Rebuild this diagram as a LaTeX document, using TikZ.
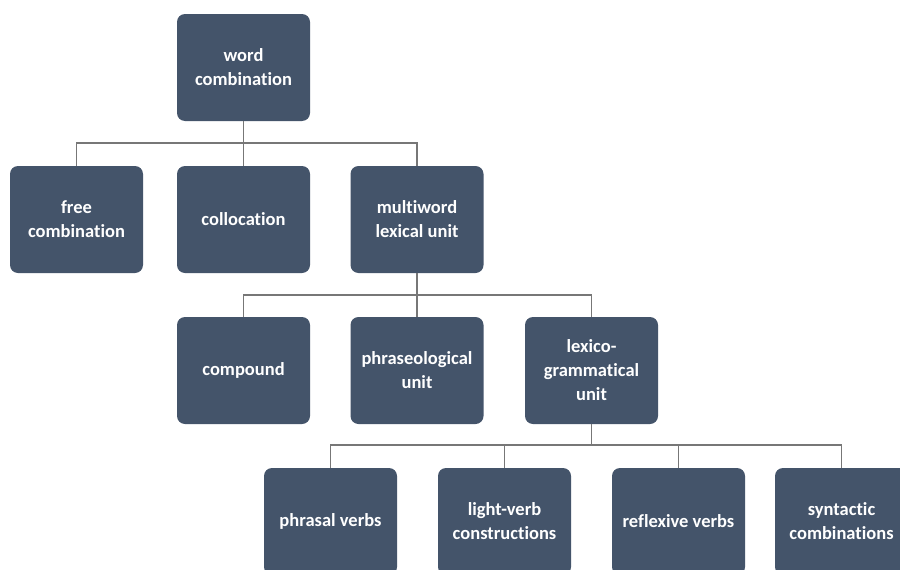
\documentclass[tikz,border=0pt]{standalone}
\usepackage{fontspec}
\setmainfont[Ligatures=NoCommon]{Carlito}
\begin{document}
\begin{tikzpicture}[x=1pt,y=1pt,
  box/.style={draw=none,fill=boxc,rounded corners=8pt,minimum width=133pt,minimum height=107pt,
    text=white,font=\bfseries\fontsize{18.5}{24}\selectfont,align=center,inner sep=0pt},
  link/.style={draw=linec,line width=1.1pt}]
\definecolor{boxc}{HTML}{44546A}
\definecolor{linec}{HTML}{777777}
\useasboundingbox (0,0) rectangle (900,-570);
\fill[white] (0,0) rectangle (900,-570);
\node[box] (wc) at (243.5,-67.5) {word\\combination};
\node[box] (fc) at (76.5,-219.5) {free\\combination};
\node[box] (col) at (243.5,-219.5) {collocation};
\node[box] (mlu) at (417,-219.5) {multiword\\lexical unit};
\node[box] (cmp) at (243.5,-370.5) {compound};
\node[box] (pu) at (417,-370.5) {phraseological\\unit};
\node[box] (lgu) at (591.5,-370.5) {lexico-\\grammatical\\unit};
\node[box] (pv) at (330.5,-521.5) {phrasal verbs};
\node[box] (lv) at (504.5,-521.5) {light-verb\\constructions};
\node[box] (rv) at (678.5,-521.5) {reflexive verbs};
\node[box] (sc) at (841.5,-521.5) {syntactic\\combinations};
\coordinate (j1) at (243.5,-143);
\coordinate (j2) at (417,-295);
\coordinate (j3) at (591.5,-445);
\draw[link] (wc.south) -- (j1);
\draw[link] (j1) -| (fc.north);
\draw[link] (j1) -- (col.north);
\draw[link] (j1) -| (mlu.north);
\draw[link] (mlu.south) -- (j2);
\draw[link] (j2) -| (cmp.north);
\draw[link] (j2) -- (pu.north);
\draw[link] (j2) -| (lgu.north);
\draw[link] (lgu.south) -- (j3);
\draw[link] (j3) -| (pv.north);
\draw[link] (j3) -| (lv.north);
\draw[link] (j3) -| (rv.north);
\draw[link] (j3) -| (sc.north);
\end{tikzpicture}
\end{document}
